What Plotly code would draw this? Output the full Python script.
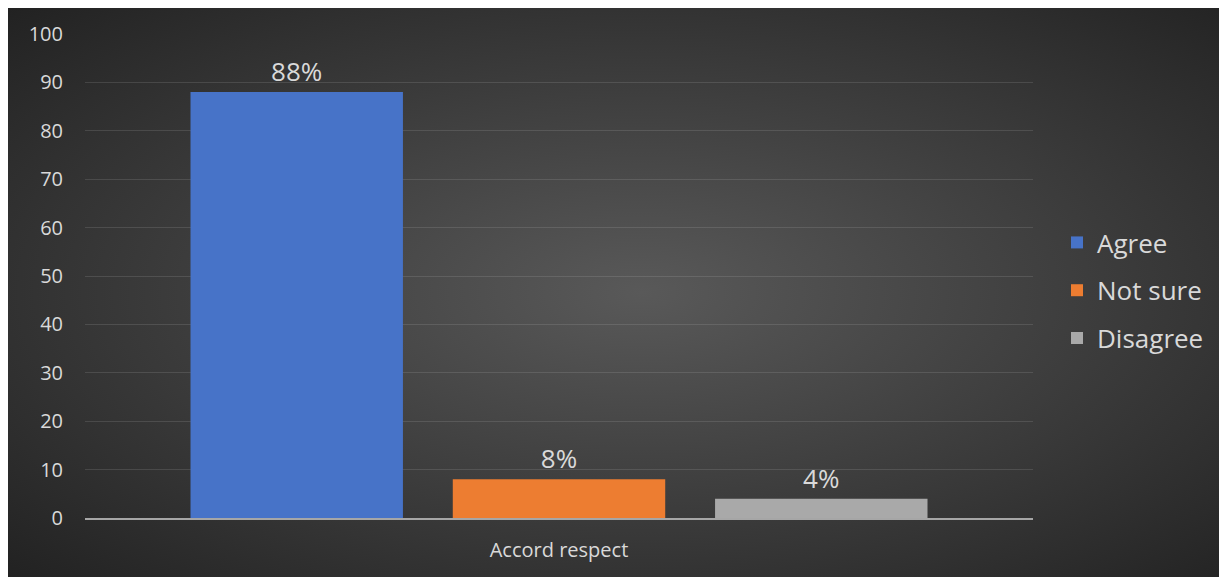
import base64
import plotly.graph_objects as go

categories = ["Accord respect"]
series_names = ["Agree", "Not sure", "Disagree"]
agree_values = [88]
not_sure_values = [8]
disagree_values = [4]
y_ticks = [0, 10, 20, 30, 40, 50, 60, 70, 80, 90, 100]

series_values = [agree_values, not_sure_values, disagree_values]
colors = ["#4773c8", "#ed7d31", "#a9a9a9"]
text_color = "#d9d9d9"
font_family = "Open Sans, Noto Sans, sans-serif"

# page body has an 8px default margin, so the figure sits at (8, 8)
W, H = 1219, 569
L, R, T, B = 77, 194, 26, 59
pw, ph = W - L - R, H - T - B

svg = """<svg xmlns='http://www.w3.org/2000/svg' width='1219' height='569' preserveAspectRatio='none'>
<defs><radialGradient id='g' cx='52%' cy='50%' r='72%'>
<stop offset='0%' stop-color='#595959'/>
<stop offset='100%' stop-color='#222222'/>
</radialGradient></defs>
<rect width='1219' height='569' fill='url(#g)'/></svg>"""
svg_uri = "data:image/svg+xml;base64," + base64.b64encode(svg.encode()).decode()

fig = go.Figure()
for name, vals, col in zip(series_names, series_values, colors):
    fig.add_trace(go.Bar(
        x=categories, y=vals, name=name, legendgroup=name,
        marker=dict(color=col, line=dict(width=0)),
        texttemplate="%{y}%", textposition="outside",
        textfont=dict(color=text_color, size=26, family=font_family),
        cliponaxis=False,
    ))

fig.add_layout_image(dict(
    source=svg_uri, xref="paper", yref="paper",
    x=-L / pw, y=(H - B) / ph,
    sizex=W / pw, sizey=H / ph,
    xanchor="left", yanchor="top", sizing="stretch", layer="below",
))

fig.update_layout(
    width=W, height=H,
    margin=dict(l=L, r=R, t=T, b=B),
    paper_bgcolor="#2c2c2c", plot_bgcolor="rgba(0,0,0,0)",
    barmode="group", bargap=0.17, bargroupgap=0.19,
    font=dict(family=font_family, color=text_color, size=20),
    legend=dict(
        x=(1049 - L) / pw, xanchor="left", y=0.47, yanchor="middle",
        font=dict(size=26, color=text_color, family=font_family),
        tracegroupgap=11, bgcolor="rgba(0,0,0,0)", itemwidth=30,
    ),
    showlegend=True,
)
fig.update_yaxes(
    range=[0, 100], tickvals=y_ticks, showgrid=True,
    gridcolor="rgba(200,200,200,0.16)", gridwidth=1, zeroline=False,
    tickfont=dict(size=20, color=text_color), ticks="", ticklen=0,
    ticklabelstandoff=21,
)
fig.update_xaxes(
    showline=True, linecolor="#a6a6a6", linewidth=2,
    tickfont=dict(size=20, color=text_color), ticks="",
    ticklabelstandoff=13,
)
fig.write_html("out.html")
